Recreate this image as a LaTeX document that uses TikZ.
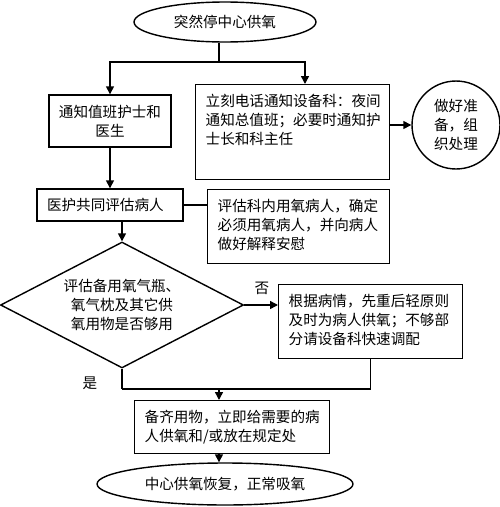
\documentclass[tikz,border=0pt]{standalone}
\usepackage{fontspec}
\newfontfamily\cjk{Noto Sans CJK SC}
\usetikzlibrary{arrows.meta,positioning,calc,shapes.geometric}

\begin{document}
\begin{tikzpicture}[x=0.02cm, y=-0.02cm,
    every node/.style={font=\cjk\fontsize{8.3pt}{10.8pt}\selectfont},
    box/.style={draw, line width=0.8pt},
    notebox/.style={draw, line width=0.8pt, anchor=north west, align=left,
        inner xsep=0.2cm, inner ysep=0.18cm, text height=0.26cm},
    arr/.style={line width=0.8pt, -{Triangle[length=4.5pt,width=4.5pt]}},
    link/.style={line width=0.8pt}]
    \useasboundingbox (0,0) rectangle (500,507);

    % Start and end
    \node[box, ellipse, minimum width=3.64cm, minimum height=0.8cm, inner sep=0pt] (top) at (225,22) {突然停中心供氧};
    \node[box, ellipse, minimum width=5.12cm, minimum height=0.84cm, inner sep=0pt] (done) at (225,484) {中心供氧恢复，正常吸氧};

    % Left column
    \node[box, minimum width=2.44cm, minimum height=1.04cm, align=center] (b1) at (110,121) {通知值班护士和\\医生};
    \node[box, minimum width=2.92cm, minimum height=0.64cm, text width=2.52cm, inner xsep=0.2cm, align=left] (b3) at (110,205) {医护共同评估病人};
    \node[box, diamond, aspect=1.93, minimum width=4.86cm, minimum height=2.52cm, inner sep=0pt, align=center] (check) at (122,305) {评估备用氧气瓶、\\氧气枕及其它供\\氧用物是否够用};

    % Right column
    \node[notebox, text width=3.48cm, text depth=1.28cm] (b2) at (195,84) {立刻电话通知设备科：夜间\\通知总值班；必要时通知护\\士长和科主任};
    \node[box, circle, minimum size=1.76cm, inner sep=0pt, align=center] (ready) at (456,125) {做好准\\备，组\\织处理};
    \node[notebox, text width=3.24cm, text depth=0.86cm] (b4) at (207,189) {评估科内用氧病人，确定\\必须用氧病人，并向病人\\做好解释安慰};
    \node[notebox, text width=3.28cm, text depth=0.86cm] (b5) at (278,284) {根据病情，先重后轻原则\\及时为病人供氧；不够部\\分请设备科快速调配};
    \node[notebox, text width=3.5cm, text depth=0.44cm] (b6) at (134,400) {备齐用物，立即给需要的病\\人供氧和/或放在规定处};

    % Branch labels
    \node (nolabel) at (262,288) {否};
    \node (yeslabel) at (90,383) {是};

    % Connectors
    \coordinate (split) at (219,62);
    \draw[link] (top.south -| split) -- (split);
    \draw[arr] (split) -| (b1.north);
    \draw[arr] (split) -| ($(b2.north west)+(110,0)$);
    \draw[arr] (b2.east |- ready.west) -- (ready.west);
    \draw[arr] (b1.south) -- (b3.north);
    \draw[link] (b3.east) -- (b3.east -| b4.west);
    \draw[arr] (b3.south -| check.north) -- (check.north);
    \draw[arr] (check.east) -- (check.east -| b5.west);
    \coordinate (merge) at (219,389);
    \draw[link] (b5.south) |- (check.south |- merge);
    \draw[link] (check.south) -- (check.south |- merge);
    \draw[arr] (merge) -- (merge |- b6.north);
    \draw[arr] (merge |- b6.south) -- (merge |- done.north);
\end{tikzpicture}
\end{document}
